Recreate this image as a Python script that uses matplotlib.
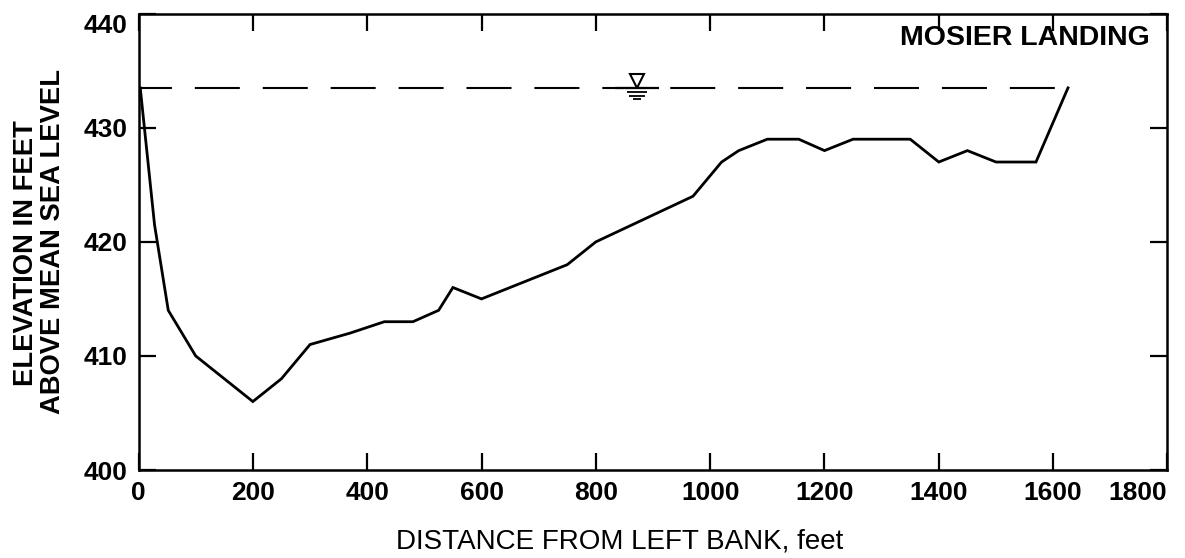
import matplotlib
matplotlib.use("Agg")
import matplotlib.pyplot as plt
from matplotlib.transforms import offset_copy

# cross section profile
distance_ft = [3, 28, 52, 100, 200, 250, 300, 370, 430, 480, 525, 550, 600,
               750, 800, 970, 1020, 1050, 1100, 1155, 1200, 1250, 1350,
               1400, 1450, 1500, 1570, 1626]
elevation_ft = [433.5, 421.5, 414, 410, 406, 408, 411, 412, 413, 413, 414,
                416, 415, 418, 420, 424, 427, 428, 429, 429, 428, 429, 429,
                427, 428, 427, 427, 433.5]

water_level = 433.5
water_symbol_x = 872
x_ticks = [0, 200, 400, 600, 800, 1000, 1200, 1400, 1600, 1800]
y_ticks = [400, 410, 420, 430, 440]

plt.rcParams['font.family'] = ['Liberation Sans', 'DejaVu Sans']

fig = plt.figure(figsize=(11.85, 5.58), dpi=100)
ax = fig.add_axes([0.1169, 0.1577, 0.8683, 0.8177])

ax.plot(distance_ft, elevation_ft, color='black', lw=2.0, solid_joinstyle='miter')

# water surface, dashed from left bank to where profile meets it
ax.plot([0, distance_ft[-1]], [water_level, water_level], color='black',
        lw=1.5, linestyle=(5.8, (21.6, 11)))

# water surface symbol
up = offset_copy(ax.transData, fig=fig, x=0, y=4.8, units='points')
ax.plot([water_symbol_x], [water_level], marker='_', ms=31, mew=1.6, color='black')
ax.plot([water_symbol_x], [water_level], marker='v', ms=10, mfc='white',
        mec='black', mew=1.5, transform=up)
for dy, w in [(-3.1, 14.5), (-5.8, 11.5), (-8.2, 6)]:
    tr = offset_copy(ax.transData, fig=fig, x=0, y=dy, units='points')
    ax.plot([water_symbol_x], [water_level], marker='_', ms=w, mew=1.3,
            color='black', transform=tr)

ax.set_xlim(0, 1800)
ax.set_ylim(400, 440)
ax.set_xticks(x_ticks)
ax.set_yticks(y_ticks)
ax.tick_params(direction='in', length=12.5, width=1.6, top=True, right=True,
               labelsize=19, pad=8)
for lab in ax.get_xticklabels() + ax.get_yticklabels():
    lab.set_fontweight('bold')
# last labels kept inside the frame like the original
ax.get_xticklabels()[-1].set_horizontalalignment('right')
ax.get_yticklabels()[-1].set_verticalalignment('top')
for s in ax.spines.values():
    s.set_linewidth(1.8)

ax.text(0.9825, 0.946, 'MOSIER LANDING', transform=ax.transAxes, ha='right',
        va='center', fontsize=20.5, fontweight='bold')

fig.text(33 / 1185, 1 - 253 / 558, 'ELEVATION IN FEET', rotation=90,
         rotation_mode='anchor', ha='center', va='baseline', fontsize=19.7,
         fontweight='bold')
fig.text(60 / 1185, 1 - 242 / 558, 'ABOVE MEAN SEA LEVEL', rotation=90,
         rotation_mode='anchor', ha='center', va='baseline', fontsize=19.7,
         fontweight='bold')

fig.text(620 / 1185, 1 - 548 / 558, 'DISTANCE FROM LEFT BANK, feet',
         ha='center', va='baseline', fontsize=20)

fig.savefig('out.png', dpi=100)
